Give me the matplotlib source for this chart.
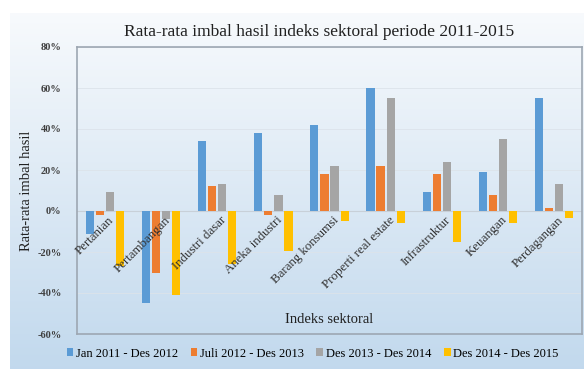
import numpy as np
import matplotlib
matplotlib.use('Agg')
import matplotlib.pyplot as plt

plt.rcParams['font.family'] = ['Liberation Serif', 'DejaVu Serif']

sektor = ['Pertanian', 'Pertambangan', 'Industri dasar', 'Aneka industri',
          'Barang konsumsi', 'Properti real estate', 'Infrastruktur',
          'Keuangan', 'Perdagangan']
periode = ['Jan 2011 - Des 2012', 'Juli 2012 - Des 2013',
           'Des 2013 - Des 2014', 'Des 2014 - Des 2015']
jan11_des12 = [-11, -45, 34, 38, 42, 60, 9.5, 19, 55]
jul12_des13 = [-2, -30, 12, -2, 18, 22, 18, 8, 1.5]
des13_des14 = [9.5, -4, 13, 8, 22, 55, 24, 35, 13]
des14_des15 = [-27, -41, -26, -19.5, -5, -6, -15, -6, -3.5]
warna = ['#5B9BD5', '#ED7D31', '#A5A5A5', '#FFC000']

fig = plt.figure(figsize=(5.84, 3.69), dpi=100)
fig.patch.set_facecolor('white')

# background gradient (white top -> light blue bottom)
bg = fig.add_axes([10/584, 0, 1 - 10/584, 1 - 13/369], zorder=-5)
top = np.array([0.97, 0.98, 0.99])
bot = np.array([0.76, 0.85, 0.93])
t = np.linspace(0, 1, 256)[:, None]
grad = top * (1 - t) + bot * t
bg.imshow(grad[:, None, :].repeat(2, axis=1), aspect='auto', extent=[0, 1, 0, 1])
bg.axis('off')

ax = fig.add_axes([77/584, 1 - 334/369, 505/584, 287/369])
ax.patch.set_alpha(0)

x = np.arange(len(sektor))
semua = [jan11_des12, jul12_des13, des13_des14, des14_des15]
for k, (seri, lab) in enumerate(zip(semua, periode)):
    ax.bar(x + (k - 1.5) * 0.18, seri, width=0.145, color=warna[k], label=lab, zorder=3)

ax.set_xlim(-0.5, len(sektor) - 0.5)
ax.set_ylim(-60, 80)
ax.set_yticks(range(-60, 81, 20))
ax.set_yticklabels(['%d%%' % v for v in range(-60, 81, 20)], fontsize=7.5,
                   color='#404040', fontweight='bold')
ax.tick_params(axis='y', length=0, pad=11)
ax.set_xticks([])
ax.grid(axis='y', color='#DCE3EA', linewidth=0.6, zorder=0)
ax.axhline(0, color='#C8D0D8', linewidth=0.8, zorder=2)
for s in ax.spines.values():
    s.set_color('#9DA7B2')
    s.set_linewidth(1.2)

for i, nama in enumerate(sektor):
    ax.text(i + 0.05, -1.5, nama, rotation=45, rotation_mode='anchor',
            ha='right', va='top', fontsize=9.3, color='#303030', zorder=4)

ax.set_title('Rata-rata imbal hasil indeks sektoral periode 2011-2015',
             fontsize=12.5, color='#202020', pad=8, x=0.48)
ax.set_ylabel('Rata-rata imbal hasil', fontsize=10.5, color='#202020', labelpad=3)
ax.text(0.5, 0.05, 'Indeks sektoral', transform=ax.transAxes, ha='center',
        va='center', fontsize=10.5, color='#202020')

fig.legend(loc='lower center', bbox_to_anchor=(0.535, -0.005), ncol=4, frameon=False,
           fontsize=9, handlelength=0.55, handleheight=0.55, handletextpad=0.2,
           columnspacing=1.0)

fig.savefig('out.png', dpi=100)
